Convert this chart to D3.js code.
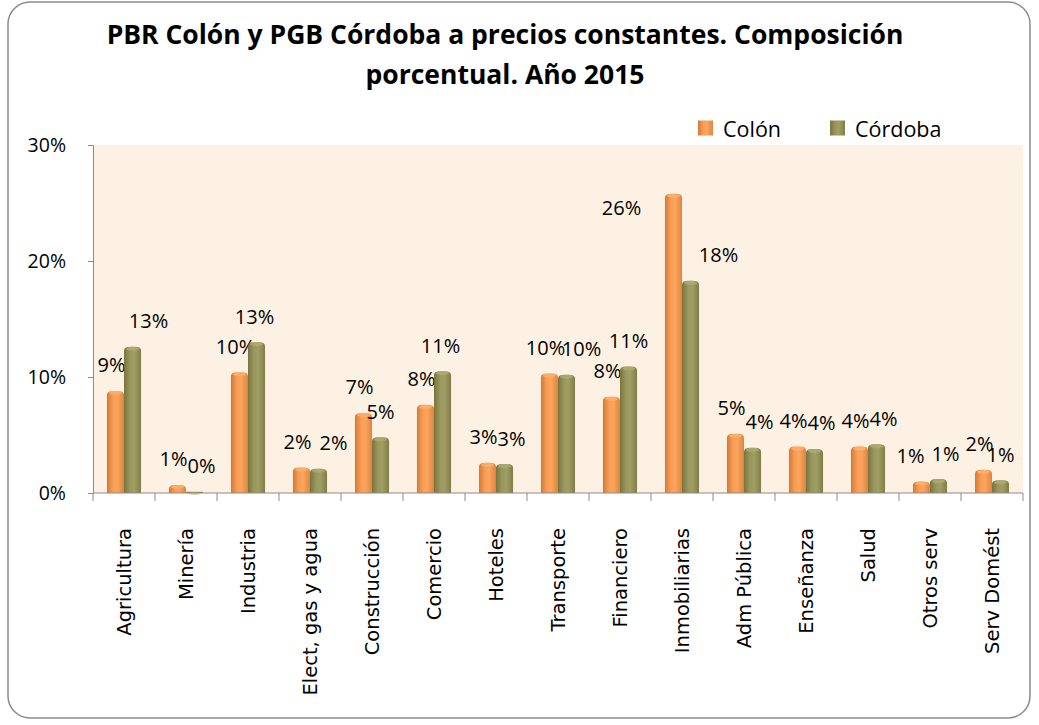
<!DOCTYPE html>
<html>
<head>
<meta charset="utf-8">
<script src="https://cdn.jsdelivr.net/npm/d3@7"></script>
<style>
  body { margin: 0; background: #fff; }
  svg text { font-family: "Open Sans", "Noto Sans", sans-serif; fill: #000; }
</style>
</head>
<body>
<svg id="chart"></svg>
<script>
// data (percent of total)
const categories = ["Agricultura", "Minería", "Industria", "Elect, gas y agua", "Construcción",
  "Comercio", "Hoteles", "Transporte", "Financiero", "Inmobiliarias", "Adm Pública",
  "Enseñanza", "Salud", "Otros serv", "Serv Domést"];
const seriesNames = ["Colón", "Córdoba"];
const colonValues = [8.8, 0.7, 10.4, 2.2, 6.9, 7.6, 2.6, 10.3, 8.3, 25.8, 5.1, 4.0, 4.0, 1.0, 2.0];
const cordobaValues = [12.6, 0.1, 13.0, 2.1, 4.8, 10.5, 2.5, 10.2, 10.9, 18.3, 3.9, 3.8, 4.2, 1.2, 1.1];
const yTicks = [0, 10, 20, 30];
const titleLines = ["PBR Colón y PGB Córdoba a precios constantes. Composición", "porcentual. Año 2015"];

// data labels: Colón ones lean left, Córdoba ones lean right; some sit further off
const labelLean = [-4, 7];
const labelNudge = {
  "Agricultura|Córdoba": [9, 0],
  "Industria|Córdoba": [-9, 0],
  "Elect, gas y agua|Córdoba": [8, 0],
  "Construcción|Córdoba": [-7, 0],
  "Comercio|Córdoba": [-9, 0],
  "Transporte|Córdoba": [8, 0],
  "Financiero|Córdoba": [-7, 0],
  "Otros serv|Colón": [-7, 0],
  "Serv Domést|Córdoba": [-7, 0],
  "Inmobiliarias|Colón": [-48, 40],
  "Inmobiliarias|Córdoba": [21, 0]
};

const width = 1039, height = 725;
const margin = { top: 145, right: 16, bottom: 232, left: 93 };

const rows = categories.map((c, i) => ({ cat: c, values: [colonValues[i], cordobaValues[i]] }));

const svg = d3.select("#chart").attr("width", width).attr("height", height);
const defs = svg.append("defs");

function barGradient(id, stops) {
  const g = defs.append("linearGradient").attr("id", id)
    .attr("x1", "0%").attr("x2", "100%").attr("y1", "0%").attr("y2", "0%");
  stops.forEach(s => g.append("stop").attr("offset", s[0]).attr("stop-color", s[1]));
}
barGradient("g-colon", [["0%", "#d27a37"], ["35%", "#f99d55"], ["60%", "#fba55e"], ["100%", "#e0843e"]]);
barGradient("g-cordoba", [["0%", "#77743f"], ["35%", "#9a975d"], ["60%", "#a19e64"], ["100%", "#7f7c47"]]);
const fills = ["url(#g-colon)", "url(#g-cordoba)"];
const capFills = ["#fbb071", "#aeab74"];

// outer rounded frame
svg.append("rect")
  .attr("x", 8).attr("y", 2).attr("width", 1022).attr("height", 716)
  .attr("rx", 22).attr("ry", 22)
  .attr("fill", "#fff").attr("stroke", "#8c8c8c").attr("stroke-width", 1.5);

// title
svg.append("g").selectAll("text").data(titleLines).enter().append("text")
  .attr("x", 505).attr("y", (d, i) => 44 + i * 40)
  .attr("text-anchor", "middle")
  .style("font-size", "26.5px").style("font-weight", "bold")
  .text(d => d);

const x0 = d3.scaleBand().domain(categories).range([margin.left, width - margin.right]);
const bw = x0.bandwidth();
const x1 = d3.scaleBand().domain(seriesNames).range([bw * 0.225, bw * 0.775]);
const y = d3.scaleLinear().domain([0, 30]).range([height - margin.bottom, margin.top]);

// plot area background
svg.append("rect")
  .attr("x", margin.left).attr("y", margin.top)
  .attr("width", width - margin.right - margin.left)
  .attr("height", y(0) - margin.top)
  .attr("fill", "#fdf1e3");

// bars
const groups = svg.append("g").selectAll("g").data(rows).enter().append("g")
  .attr("transform", d => "translate(" + x0(d.cat) + ",0)");

const bars = groups.selectAll("g.bar")
  .data(d => d.values.map((v, j) => ({ cat: d.cat, s: seriesNames[j], j: j, v: v })))
  .enter().append("g").attr("class", "bar");

const r = 4;
bars.append("path")
  .attr("d", d => {
    const xl = x1(d.s), w = x1.bandwidth(), top = y(d.v), bot = y(0);
    const rr = Math.min(r, (bot - top) / 2);
    return "M" + xl + "," + bot + "V" + (top + rr) +
      "Q" + xl + "," + top + " " + (xl + rr * 1.5) + "," + top +
      "H" + (xl + w - rr * 1.5) +
      "Q" + (xl + w) + "," + top + " " + (xl + w) + "," + (top + rr) +
      "V" + bot + "Z";
  })
  .attr("fill", d => fills[d.j]);

bars.append("ellipse")
  .attr("cx", d => x1(d.s) + x1.bandwidth() / 2)
  .attr("cy", d => y(d.v) + 2)
  .attr("rx", d => x1.bandwidth() / 2 - 2)
  .attr("ry", d => Math.min(2, (y(0) - y(d.v)) / 2))
  .attr("fill", d => capFills[d.j])
  .attr("opacity", 0.8);

// data labels
const nudge = d => labelNudge[d.cat + "|" + d.s] || [0, 0];
bars.append("text")
  .attr("x", d => x1(d.s) + x1.bandwidth() / 2 + labelLean[d.j] + nudge(d)[0])
  .attr("y", d => y(d.v) - 26 + nudge(d)[1])
  .attr("text-anchor", "middle")
  .attr("dominant-baseline", "central")
  .style("font-size", "20px")
  .text(d => Math.round(d.v) + "%");

// y axis
const yAxis = svg.append("g")
  .attr("transform", "translate(" + margin.left + ",0)")
  .call(d3.axisLeft(y).tickValues(yTicks).tickFormat(d => d + "%").tickSize(5).tickPadding(22));
yAxis.selectAll("path, line").attr("stroke", "#8c8c8c");
yAxis.selectAll("text").style("font-size", "19.5px").style("font-family", "'Open Sans', sans-serif");

// x axis with ticks at category boundaries
const xAxisG = svg.append("g").attr("transform", "translate(0," + y(0) + ")");
xAxisG.append("line")
  .attr("x1", margin.left).attr("x2", width - margin.right)
  .attr("stroke", "#8c8c8c");
xAxisG.selectAll("line.tick").data(categories.concat([null])).enter().append("line")
  .attr("class", "tick")
  .attr("x1", (d, i) => margin.left + i * bw).attr("x2", (d, i) => margin.left + i * bw)
  .attr("y1", 0).attr("y2", 8)
  .attr("stroke", "#8c8c8c");
xAxisG.selectAll("text").data(categories).enter().append("text")
  .attr("transform", d => "translate(" + (x0(d) + bw / 2) + ",35) rotate(-90)")
  .attr("text-anchor", "end")
  .attr("dominant-baseline", "central")
  .style("font-family", "'DejaVu Sans', sans-serif")
  .style("font-size", "19.5px")
  .text(d => d);

// legend
const legend = svg.append("g").selectAll("g").data(seriesNames).enter().append("g")
  .attr("transform", (d, i) => "translate(" + (698 + i * 132) + ",128)");
legend.append("rect")
  .attr("x", 0).attr("y", -7.5).attr("width", 15).attr("height", 15)
  .attr("fill", (d, i) => fills[i]);
legend.append("text")
  .attr("x", 25).attr("y", 0)
  .attr("dominant-baseline", "central")
  .style("font-size", "21.5px")
  .text(d => d);
</script>
</body>
</html>
